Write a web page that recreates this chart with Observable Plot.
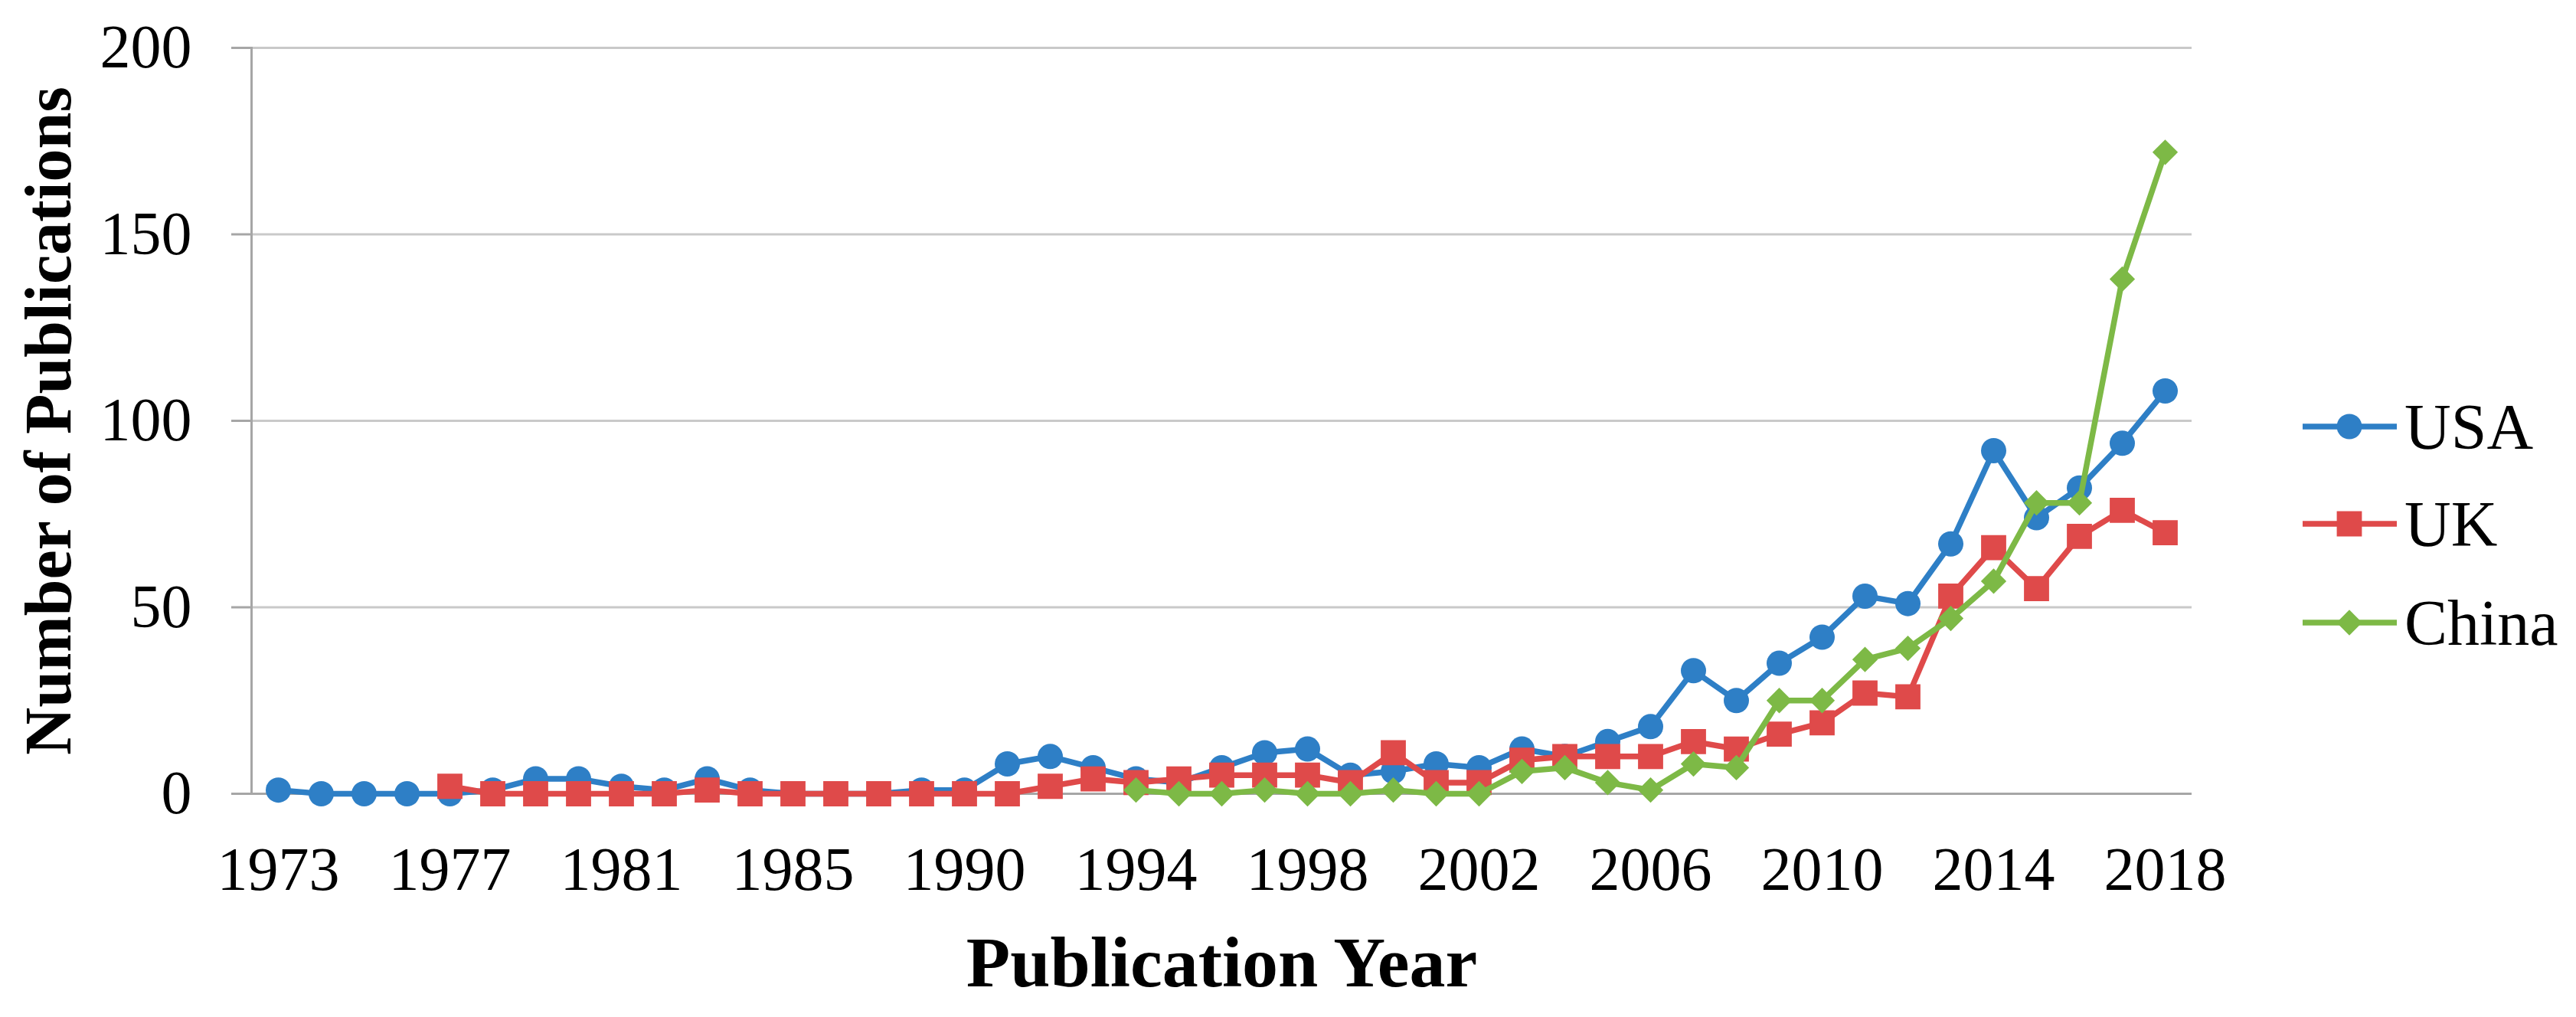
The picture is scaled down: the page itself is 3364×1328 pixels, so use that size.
<!DOCTYPE html>
<html><head><meta charset="utf-8">
<script src="https://cdn.jsdelivr.net/npm/d3@7"></script>
<script src="https://cdn.jsdelivr.net/npm/@observablehq/plot@0.6"></script>
<style>
body{margin:0;background:#fff;}
#wrap{position:relative;width:3364px;height:1328px;font-family:"Liberation Serif","Times New Roman",serif;background:#fff;}
#legend{position:absolute;left:3007px;top:0;}
.item{position:absolute;left:0;height:100px;display:flex;align-items:center;white-space:nowrap;font-size:84px;color:#000;}
.item svg{margin-right:10px;}
</style></head><body><div id="wrap"><div id="legend"></div></div>
<script>
const years = ["1973","1974","1975","1976","1977","1978","1979","1980","1981","1982","1983","1984","1985","1986","1987","1988",
  "1990","1991","1992","1993","1994","1995","1996","1997","1998","1999","2000","2001","2002","2003","2004","2005","2006","2007","2008","2009","2010","2011","2012","2013","2014","2015","2016","2017","2018"];
const usa = [1,0,0,0,0,1,4,4,2,1,4,1,0,0,0,1,
  1,8,10,7,4,3,7,11,12,5,6,8,7,12,10,14,18,33,25,35,42,53,51,67,92,74,82,94,108];
const uk = [null,null,null,null,2,0,0,0,0,0,1,0,0,0,0,0,
  0,0,2,4,3,4,5,5,5,3,11,3,3,9,10,10,10,14,12,16,19,27,26,53,66,55,69,76,70];
const china = [null,null,null,null,null,null,null,null,null,null,null,null,null,null,null,null,
  null,null,null,null,1,0,0,1,0,0,1,0,0,6,7,3,1,8,7,25,25,36,39,47,57,78,78,138,172];
const seriesNames = ["USA","UK","China"];
const seriesValues = [usa, uk, china];
const seriesColors = ["#2e7fc6","#df4a4a","#7db946"];
const seriesSymbols = ["circle","square","diamond2"];
const seriesR = [16.5, 18.5, 15];
const yTicks = [0,50,100,150,200];
const xTickLabels = ["1973","1977","1981","1985","1990","1994","1998","2002","2006","2010","2014","2018"];
const yTitle = "Number of Publications";
const xTitle = "Publication Year";

const seriesRows = seriesNames.map((name,k) =>
  years.map((y,i) => ({year: y, value: seriesValues[k][i], series: name})).filter(d => d.value != null));

const marks = [
  Plot.gridY(yTicks.slice(1), {stroke: "#c9c9c9", strokeOpacity: 1, strokeWidth: 3}),
  Plot.ruleY([0], {stroke: "#a6a6a6", strokeWidth: 3}),
  Plot.frame({anchor: "left", stroke: "#a6a6a6", strokeWidth: 3}),
  Plot.axisY({ticks: yTicks, tickSize: 26, tickPadding: 52, stroke: "#a6a6a6", strokeWidth: 3, fill: "#000", fontSize: 80, label: null}),
  Plot.axisX({ticks: xTickLabels, tickSize: 0, tickPadding: 69, fill: "#000", fontSize: 80, label: null})
];
seriesNames.forEach((name,k) => {
  marks.push(Plot.line(seriesRows[k], {x: "year", y: "value", stroke: seriesColors[k], strokeWidth: 7.5}));
  marks.push(Plot.dot(seriesRows[k], {x: "year", y: "value", symbol: seriesSymbols[k], r: seriesR[k], fill: seriesColors[k], stroke: "none"}));
});
marks.push(Plot.text([yTitle], {text: d => d, frameAnchor: "left", dx: -264, rotate: -90, textAnchor: "middle", lineAnchor: "middle", fontSize: 86, fontWeight: "bold", fill: "#000"}));
marks.push(Plot.text([xTitle], {text: d => d, frameAnchor: "bottom", dy: 221, textAnchor: "middle", lineAnchor: "middle", fontSize: 94, fontWeight: "bold", fill: "#000"}));

const chart = Plot.plot({
  width: 3364,
  height: 1328,
  marginLeft: 328,
  marginRight: 502,
  marginTop: 62,
  marginBottom: 292,
  style: {fontFamily: "Liberation Serif, Times New Roman, serif", fontSize: "80px", color: "#000", background: "#fff", overflow: "visible"},
  x: {type: "point", domain: years, padding: 0.5},
  y: {domain: [0, 200]},
  marks
});
const wrap = document.getElementById("wrap");
wrap.insertBefore(chart, wrap.firstChild);

const legendCenters = [557, 684, 813];
const legend = document.getElementById("legend");
seriesNames.forEach((name,k) => {
  const item = document.createElement("div");
  item.className = "item";
  item.style.top = (legendCenters[k] - 50) + "px";
  const ns = "http://www.w3.org/2000/svg";
  const svg = document.createElementNS(ns, "svg");
  svg.setAttribute("width", 123); svg.setAttribute("height", 44);
  const line = document.createElementNS(ns, "line");
  line.setAttribute("x1", 0); line.setAttribute("x2", 123); line.setAttribute("y1", 22); line.setAttribute("y2", 22);
  line.setAttribute("stroke", seriesColors[k]); line.setAttribute("stroke-width", 7.5);
  svg.appendChild(line);
  const path = document.createElementNS(ns, "path");
  const sym = {circle: d3.symbolCircle, square: d3.symbolSquare, diamond2: d3.symbolDiamond2}[seriesSymbols[k]];
  path.setAttribute("d", d3.symbol(sym, Math.PI * seriesR[k] * seriesR[k])());
  path.setAttribute("transform", "translate(61,22)");
  path.setAttribute("fill", seriesColors[k]);
  svg.appendChild(path);
  item.appendChild(svg);
  const span = document.createElement("span");
  span.textContent = name;
  item.appendChild(span);
  legend.appendChild(item);
});
</script>
</body></html>
